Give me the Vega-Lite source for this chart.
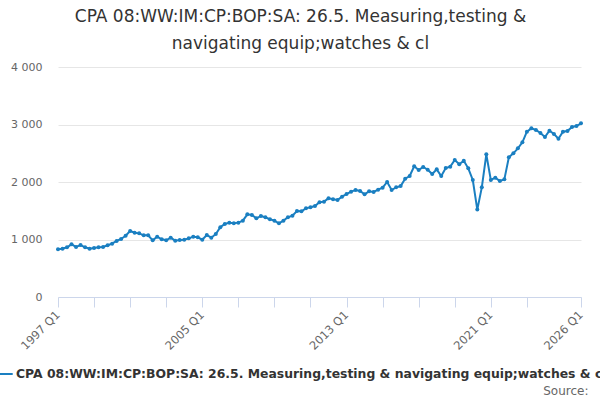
{
  "$schema": "https://vega.github.io/schema/vega-lite/v6.json",
  "width": 523,
  "height": 230,
  "autosize": {"type": "none"},
  "padding": {"left": 58, "top": 67, "right": 19, "bottom": 103},
  "background": "white",
  "title": {
    "text": ["CPA 08:WW:IM:CP:BOP:SA: 26.5. Measuring,testing &", "navigating equip;watches & cl"],
    "anchor": "middle",
    "dx": -19,
    "offset": 8,
    "fontSize": 17,
    "fontWeight": "normal",
    "font": "DejaVu Sans",
    "color": "#333333",
    "lineHeight": 27
  },
  "config": {
    "view": {"stroke": null},
    "font": "DejaVu Sans"
  },
  "data": {
    "values": [
      {"quarter": "1997 Q1", "value": 830}, {"quarter": "1997 Q2", "value": 840}, {"quarter": "1997 Q3", "value": 864}, {"quarter": "1997 Q4", "value": 916},
      {"quarter": "1998 Q1", "value": 870}, {"quarter": "1998 Q2", "value": 904}, {"quarter": "1998 Q3", "value": 864}, {"quarter": "1998 Q4", "value": 840},
      {"quarter": "1999 Q1", "value": 852}, {"quarter": "1999 Q2", "value": 864}, {"quarter": "1999 Q3", "value": 870}, {"quarter": "1999 Q4", "value": 899},
      {"quarter": "2000 Q1", "value": 928}, {"quarter": "2000 Q2", "value": 974}, {"quarter": "2000 Q3", "value": 1009}, {"quarter": "2000 Q4", "value": 1066},
      {"quarter": "2001 Q1", "value": 1148}, {"quarter": "2001 Q2", "value": 1119}, {"quarter": "2001 Q3", "value": 1107}, {"quarter": "2001 Q4", "value": 1072},
      {"quarter": "2002 Q1", "value": 1072}, {"quarter": "2002 Q2", "value": 986}, {"quarter": "2002 Q3", "value": 1049}, {"quarter": "2002 Q4", "value": 1003},
      {"quarter": "2003 Q1", "value": 986}, {"quarter": "2003 Q2", "value": 1032}, {"quarter": "2003 Q3", "value": 980}, {"quarter": "2003 Q4", "value": 991},
      {"quarter": "2004 Q1", "value": 997}, {"quarter": "2004 Q2", "value": 1020}, {"quarter": "2004 Q3", "value": 1049}, {"quarter": "2004 Q4", "value": 1038},
      {"quarter": "2005 Q1", "value": 997}, {"quarter": "2005 Q2", "value": 1078}, {"quarter": "2005 Q3", "value": 1032}, {"quarter": "2005 Q4", "value": 1096},
      {"quarter": "2006 Q1", "value": 1212}, {"quarter": "2006 Q2", "value": 1270}, {"quarter": "2006 Q3", "value": 1293}, {"quarter": "2006 Q4", "value": 1281},
      {"quarter": "2007 Q1", "value": 1293}, {"quarter": "2007 Q2", "value": 1328}, {"quarter": "2007 Q3", "value": 1438}, {"quarter": "2007 Q4", "value": 1426},
      {"quarter": "2008 Q1", "value": 1368}, {"quarter": "2008 Q2", "value": 1409}, {"quarter": "2008 Q3", "value": 1386}, {"quarter": "2008 Q4", "value": 1351},
      {"quarter": "2009 Q1", "value": 1328}, {"quarter": "2009 Q2", "value": 1281}, {"quarter": "2009 Q3", "value": 1328}, {"quarter": "2009 Q4", "value": 1386},
      {"quarter": "2010 Q1", "value": 1414}, {"quarter": "2010 Q2", "value": 1496}, {"quarter": "2010 Q3", "value": 1490}, {"quarter": "2010 Q4", "value": 1542},
      {"quarter": "2011 Q1", "value": 1560}, {"quarter": "2011 Q2", "value": 1583}, {"quarter": "2011 Q3", "value": 1647}, {"quarter": "2011 Q4", "value": 1658},
      {"quarter": "2012 Q1", "value": 1716}, {"quarter": "2012 Q2", "value": 1699}, {"quarter": "2012 Q3", "value": 1687}, {"quarter": "2012 Q4", "value": 1745},
      {"quarter": "2013 Q1", "value": 1791}, {"quarter": "2013 Q2", "value": 1832}, {"quarter": "2013 Q3", "value": 1861}, {"quarter": "2013 Q4", "value": 1845},
      {"quarter": "2014 Q1", "value": 1786}, {"quarter": "2014 Q2", "value": 1838}, {"quarter": "2014 Q3", "value": 1826}, {"quarter": "2014 Q4", "value": 1867},
      {"quarter": "2015 Q1", "value": 1902}, {"quarter": "2015 Q2", "value": 2000}, {"quarter": "2015 Q3", "value": 1861}, {"quarter": "2015 Q4", "value": 1907},
      {"quarter": "2016 Q1", "value": 1930}, {"quarter": "2016 Q2", "value": 2058}, {"quarter": "2016 Q3", "value": 2104}, {"quarter": "2016 Q4", "value": 2273},
      {"quarter": "2017 Q1", "value": 2209}, {"quarter": "2017 Q2", "value": 2261}, {"quarter": "2017 Q3", "value": 2214}, {"quarter": "2017 Q4", "value": 2139},
      {"quarter": "2018 Q1", "value": 2220}, {"quarter": "2018 Q2", "value": 2104}, {"quarter": "2018 Q3", "value": 2243}, {"quarter": "2018 Q4", "value": 2267},
      {"quarter": "2019 Q1", "value": 2383}, {"quarter": "2019 Q2", "value": 2308}, {"quarter": "2019 Q3", "value": 2371}, {"quarter": "2019 Q4", "value": 2238},
      {"quarter": "2020 Q1", "value": 2035}, {"quarter": "2020 Q2", "value": 1520}, {"quarter": "2020 Q3", "value": 1907}, {"quarter": "2020 Q4", "value": 2481},
      {"quarter": "2021 Q1", "value": 2035}, {"quarter": "2021 Q2", "value": 2075}, {"quarter": "2021 Q3", "value": 2017}, {"quarter": "2021 Q4", "value": 2046},
      {"quarter": "2022 Q1", "value": 2429}, {"quarter": "2022 Q2", "value": 2499}, {"quarter": "2022 Q3", "value": 2586}, {"quarter": "2022 Q4", "value": 2690},
      {"quarter": "2023 Q1", "value": 2875}, {"quarter": "2023 Q2", "value": 2933}, {"quarter": "2023 Q3", "value": 2904}, {"quarter": "2023 Q4", "value": 2852},
      {"quarter": "2024 Q1", "value": 2783}, {"quarter": "2024 Q2", "value": 2893}, {"quarter": "2024 Q3", "value": 2835}, {"quarter": "2024 Q4", "value": 2753},
      {"quarter": "2025 Q1", "value": 2875}, {"quarter": "2025 Q2", "value": 2887}, {"quarter": "2025 Q3", "value": 2957}, {"quarter": "2025 Q4", "value": 2974},
      {"quarter": "2026 Q1", "value": 3020}
    ]
  },
  "mark": {"type": "line", "strokeWidth": 2, "point": {"filled": true, "size": 16}},
  "encoding": {
    "x": {
      "field": "quarter",
      "type": "ordinal",
      "sort": null,
      "scale": {"type": "point", "padding": 0},
      "axis": {
        "values": ["1997 Q1", "1999 Q1", "2001 Q1", "2003 Q1", "2005 Q1", "2007 Q1", "2009 Q1", "2011 Q1", "2013 Q1", "2015 Q1", "2017 Q1", "2019 Q1", "2021 Q1", "2023 Q1", "2026 Q1"],
        "labelExpr": "indexof(['1997 Q1','2005 Q1','2013 Q1','2021 Q1','2026 Q1'], datum.value) >= 0 ? datum.value : ''",
        "labelAngle": -45,
        "labelAlign": "right",
        "labelBaseline": "middle",
        "labelFontSize": 11.5,
        "labelColor": "#666666",
        "labelPadding": 6,
        "labelOverlap": false,
        "tickSize": 10,
        "tickColor": "#ccd6eb",
        "domainColor": "#ccd6eb",
        "grid": false,
        "title": "Source:",
        "titleFontSize": 12,
        "titleFontWeight": "normal",
        "titleColor": "#666666",
        "titleAnchor": "end",
        "titleAlign": "right",
        "titleBaseline": "alphabetic",
        "titleX": 530,
        "titleY": 97
      }
    },
    "y": {
      "field": "value",
      "type": "quantitative",
      "scale": {"domain": [0, 4000]},
      "axis": {
        "values": [0, 1000, 2000, 3000, 4000],
        "labelExpr": "replace(format(datum.value, ','), ',', ' ')",
        "labelFontSize": 11,
        "labelColor": "#666666",
        "labelPadding": 16,
        "domain": false,
        "ticks": false,
        "gridColor": "#e6e6e6",
        "title": null
      }
    },
    "color": {
      "datum": "CPA 08:WW:IM:CP:BOP:SA: 26.5. Measuring,testing & navigating equip;watches & cl",
      "scale": {"range": ["#1a7fc1"]},
      "legend": {
        "orient": "none",
        "legendX": -60,
        "legendY": 299,
        "title": null,
        "symbolType": "stroke",
        "symbolStrokeWidth": 2,
        "symbolSize": 180,
        "labelFontSize": 12.4,
        "labelFontWeight": "bold",
        "labelColor": "#333333",
        "labelLimit": 2000,
        "labelOffset": 2
      }
    }
  }
}
